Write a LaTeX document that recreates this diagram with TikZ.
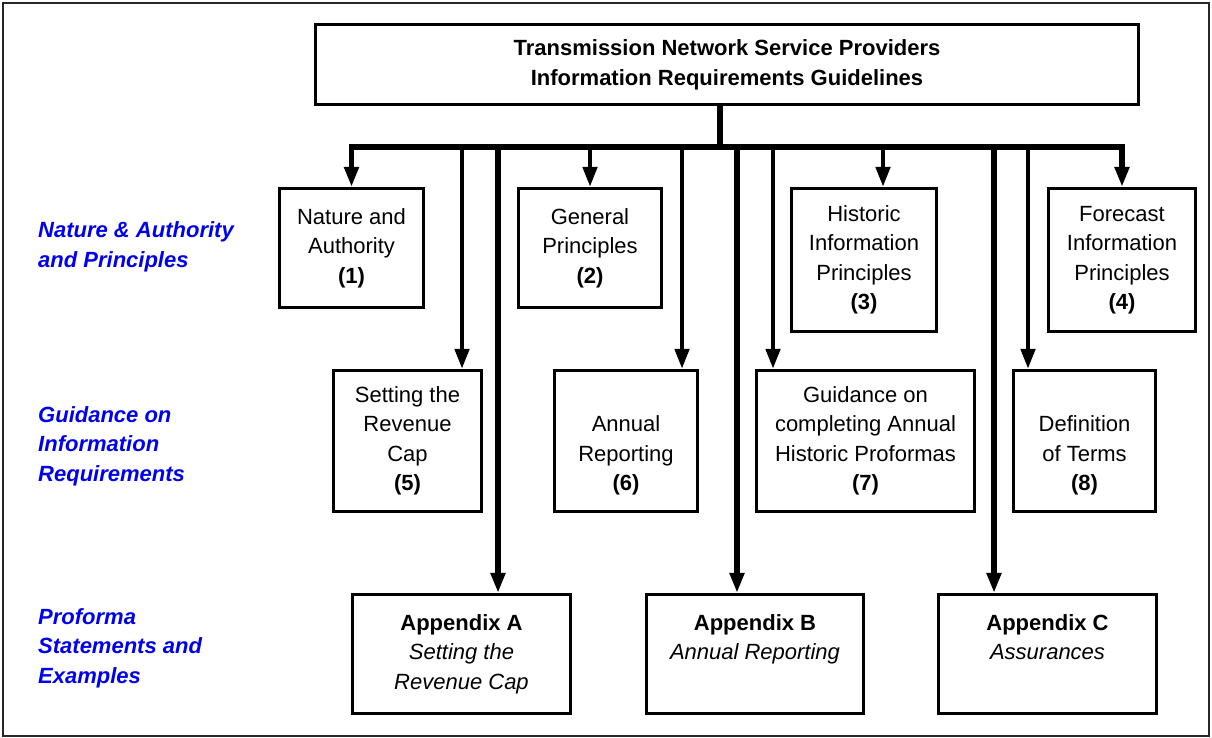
\documentclass[tikz,border=0pt]{standalone}
\usepackage{fontspec}
\setmainfont{Liberation Sans}
\usetikzlibrary{arrows.meta}
\begin{document}
\begin{tikzpicture}[x=1pt,y=-1pt,
  >={Triangle[length=20pt,width=14pt]},
  frame/.style={draw=black!85,line width=2pt},
  box/.style={draw,line width=3.2pt,align=center,inner sep=0pt,
    font=\fontsize{22}{29.5}\selectfont},
  titlebox/.style={box,font=\bfseries\fontsize{22}{30}\selectfont},
  rowlabel/.style={anchor=west,align=left,inner sep=0pt,text={rgb,255:red,0;green,0;blue,240},
    font=\bfseries\itshape\fontsize{22}{29.5}\selectfont},
  busline/.style={line width=5.5pt,line join=miter},
  drop/.style={line width=4.5pt},
  longdrop/.style={line width=6.5pt}]

\useasboundingbox (0,0) rectangle (1212,738);
\draw[frame] (3,3) rectangle (1209,736);

% heading
\node[titlebox,minimum width=823pt,minimum height=80pt] (top) at (727,64.5)
  {Transmission Network Service Providers\\Information Requirements Guidelines};

% row labels
\node[rowlabel] (lab1) at (38,247) {Nature \& Authority\\and Principles};
\node[rowlabel] (lab2) at (38,446) {Guidance on\\Information\\Requirements};
\node[rowlabel] (lab3) at (38,648) {Proforma\\Statements and\\Examples};

% first row
\node[box,minimum width=144pt,minimum height=119pt] (b1) at (351.5,248)
  {Nature and\\Authority\\\textbf{(1)}};
\node[box,minimum width=143pt,minimum height=119pt] (b2) at (590,248)
  {General\\Principles\\\textbf{(2)}};
\node[box,minimum width=145pt,minimum height=143pt] (b3) at (864,260)
  {Historic\\Information\\Principles\\\textbf{(3)}};
\node[box,minimum width=147pt,minimum height=143pt] (b4) at (1122,260)
  {Forecast\\Information\\Principles\\\textbf{(4)}};

% second row
\node[box,minimum width=148pt,minimum height=141pt] (b5) at (407.5,441)
  {Setting the\\Revenue\\Cap\\\textbf{(5)}};
\node[box,minimum width=143pt,minimum height=141pt] (b6) at (626,441)
  {\vphantom{Ag}\\Annual\\Reporting\\\textbf{(6)}};
\node[box,minimum width=218pt,minimum height=141pt] (b7) at (865.5,441)
  {Guidance on\\completing Annual\\Historic Proformas\\\textbf{(7)}};
\node[box,minimum width=142pt,minimum height=141pt] (b8) at (1084.5,441)
  {\vphantom{Ag}\\Definition\\of Terms\\\textbf{(8)}};

% appendices
\node[box,minimum width=218pt,minimum height=119pt] (appA) at (461.5,654)
  {\textbf{Appendix A}\\\textit{Setting the}\\\textit{Revenue Cap}};
\node[box,minimum width=217pt,minimum height=119pt] (appB) at (755,654)
  {\textbf{Appendix B}\\\textit{Annual Reporting}\\\vphantom{Ag}};
\node[box,minimum width=218pt,minimum height=119pt] (appC) at (1047.5,654)
  {\textbf{Appendix C}\\\textit{Assurances}\\\vphantom{Ag}};

% distribution bus
\coordinate (bus) at (720,147);
\draw[busline] (top.south -| bus) -- (bus);
\draw[busline,<->] (b1.north) -- (b1.north |- bus) -- (b4.north |- bus) -- (b4.north);

% branch points on the bus
\coordinate (t5) at (462,147);
\coordinate (tA) at (498,147);
\coordinate (t6) at (682,147);
\coordinate (tB) at (737,147);
\coordinate (t7) at (773,147);
\coordinate (t3) at (883,147);
\coordinate (tC) at (994,147);
\coordinate (t8) at (1028,147);

\draw[drop,->] (b2.north |- bus) -- (b2.north);
\draw[drop,->] (t3) -- (t3 |- b3.north);
\draw[drop,->] (t5) -- (t5 |- b5.north);
\draw[drop,->] (t6) -- (t6 |- b6.north);
\draw[drop,->] (t7) -- (t7 |- b7.north);
\draw[drop,->] (t8) -- (t8 |- b8.north);
\draw[longdrop,->] (tA) -- (tA |- appA.north);
\draw[longdrop,->] (tB) -- (tB |- appB.north);
\draw[longdrop,->] (tC) -- (tC |- appC.north);
\end{tikzpicture}
\end{document}
